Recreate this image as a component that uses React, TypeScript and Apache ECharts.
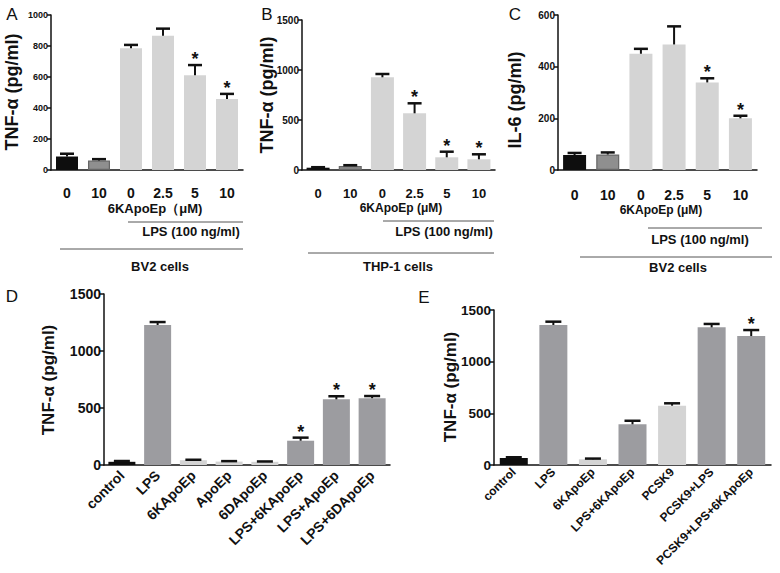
import React, { useEffect, useRef } from "react";
import * as echarts from "echarts";

// ---------- data ----------
const catsA = ["0", "10", "0", "2.5", "5", "10"];
const valsA = [87, 61, 786, 866, 611, 458];
const errA = [105, 70, 807, 912, 677, 491];
const starA = [0, 0, 0, 0, 1, 1];

const catsB = ["0", "10", "0", "2.5", "5", "10"];
const valsB = [23, 40, 927, 567, 127, 107];
const errB = [28, 48, 960, 667, 183, 157];
const starB = [0, 0, 0, 1, 1, 1];

const catsC = ["0", "10", "0", "2.5", "5", "10"];
const valsC = [58, 60, 450, 486, 339, 200];
const errC = [66, 68, 469, 556, 355, 210];
const starC = [0, 0, 0, 0, 1, 1];

const catsD = ["control", "LPS", "6KApoEp", "ApoEp", "6DApoEp", "LPS+6KApoEp", "LPS+ApoEp", "LPS+6DApoEp"];
const valsD = [28, 1228, 42, 30, 28, 213, 576, 586];
const errD = [35, 1254, 46, 34, 31, 240, 603, 605];
const starD = [0, 0, 0, 0, 0, 1, 1, 1];

const catsE = ["control", "LPS", "6KApoEp", "LPS+6KApoEp", "PCSK9", "PCSK9+LPS", "PCSK9+LPS+6KApoEp"];
const valsE = [68, 1355, 55, 394, 574, 1332, 1248];
const errE = [75, 1387, 62, 428, 597, 1365, 1306];
const starE = [0, 0, 0, 0, 0, 0, 1];

// ---------- styles ----------
const BLACK = "#0e0e0e";
const MID = "#8f8f8f";
const LIGHT = "#d4d4d4";
const GREY = "#9c9ca0";
const colorsTop = [BLACK, MID, LIGHT, LIGHT, LIGHT, LIGHT];
const colorsD = [BLACK, GREY, LIGHT, LIGHT, LIGHT, GREY, GREY, GREY];
const colorsE = [BLACK, GREY, LIGHT, GREY, LIGHT, GREY, GREY];

const FONT = "Liberation Sans, Arial, sans-serif";

type Panel = {
  cats: string[];
  vals: number[];
  err: number[];
  star: number[];
  colors: string[];
  grid: { left: number; top: number; width: number; height: number };
  max: number;
  interval: number;
  yFont: number;
  xFont: number;
  xMargin: number;
  rotate: number;
  barWidth: number;
  capHalf: number;
  starFont: number;
};

const panels: Panel[] = [
  { cats: catsA, vals: valsA, err: errA, star: starA, colors: colorsTop, grid: { left: 51, top: 15, width: 192, height: 155 }, max: 1000, interval: 200, yFont: 9, xFont: 14, xMargin: 16, rotate: 0, barWidth: 22, capHalf: 7, starFont: 18 },
  { cats: catsB, vals: valsB, err: errB, star: starB, colors: colorsTop, grid: { left: 302, top: 20, width: 193, height: 150 }, max: 1500, interval: 500, yFont: 10, xFont: 13, xMargin: 17, rotate: 0, barWidth: 23, capHalf: 7, starFont: 18 },
  { cats: catsC, vals: valsC, err: errC, star: starC, colors: colorsTop, grid: { left: 558, top: 15, width: 199, height: 155 }, max: 600, interval: 200, yFont: 10, xFont: 14, xMargin: 18, rotate: 0, barWidth: 23, capHalf: 7, starFont: 18 },
  { cats: catsD, vals: valsD, err: errD, star: starD, colors: colorsD, grid: { left: 104, top: 294, width: 286, height: 171 }, max: 1500, interval: 500, yFont: 14, xFont: 14, xMargin: 8, rotate: 45, barWidth: 27, capHalf: 8, starFont: 18 },
  { cats: catsE, vals: valsE, err: errE, star: starE, colors: colorsE, grid: { left: 494, top: 310, width: 277, height: 155 }, max: 1500, interval: 500, yFont: 13.5, xFont: 12, xMargin: 5, rotate: 45, barWidth: 28, capHalf: 8, starFont: 18 },
];

function buildOption() {
  const grid: any[] = [];
  const xAxis: any[] = [];
  const yAxis: any[] = [];
  const series: any[] = [];

  panels.forEach((p, i) => {
    grid.push({ ...p.grid, containLabel: false, outerBoundsMode: "none" });
    xAxis.push({
      type: "category",
      gridIndex: i,
      data: p.cats,
      axisLine: { lineStyle: { color: "#111", width: 1.5 } },
      axisTick: { alignWithLabel: true, length: 5, lineStyle: { color: "#111", width: 1.5 } },
      axisLabel: {
        color: "#111",
        fontFamily: FONT,
        fontWeight: "bold",
        fontSize: p.xFont,
        margin: p.xMargin,
        rotate: p.rotate,
        interval: 0,
        hideOverlap: false,
      },
    });
    yAxis.push({
      type: "value",
      gridIndex: i,
      min: 0,
      max: p.max,
      interval: p.interval,
      splitLine: { show: false },
      axisLine: { show: true, lineStyle: { color: "#111", width: 1.5 } },
      axisTick: { show: true, length: 4, lineStyle: { color: "#111", width: 1.5 } },
      axisLabel: {
        color: "#111",
        fontFamily: FONT,
        fontWeight: "bold",
        fontSize: p.yFont,
        margin: 3,
        formatter: (v: number) => String(v),
      },
    });
    series.push({
      type: "bar",
      xAxisIndex: i,
      yAxisIndex: i,
      barWidth: p.barWidth,
      data: p.vals.map((v, k) => ({
        value: v,
        itemStyle: {
          color: p.colors[k],
          borderColor: p.colors[k] === MID ? "#666" : p.colors[k] === BLACK ? "#000" : p.colors[k],
          borderWidth: p.colors[k] === MID ? 1.2 : 0,
        },
      })),
      z: 2,
    });
    const capHalf = p.capHalf;
    series.push({
      type: "custom",
      xAxisIndex: i,
      yAxisIndex: i,
      z: 3,
      data: p.vals.map((v, k) => [k, v, p.err[k]]),
      renderItem: (params: any, api: any) => {
        const base = api.coord([api.value(0), api.value(1)]);
        const top = api.coord([api.value(0), api.value(2)]);
        return {
          type: "group",
          children: [
            { type: "line", shape: { x1: base[0], y1: base[1], x2: top[0], y2: top[1] }, style: { stroke: "#111", lineWidth: 2 } },
            { type: "line", shape: { x1: top[0] - capHalf, y1: top[1], x2: top[0] + capHalf, y2: top[1] }, style: { stroke: "#111", lineWidth: 2.5 } },
          ],
        };
      },
    });
    const starData = p.err.map((e, k) => [k, e]).filter((_, k) => p.star[k] === 1);
    series.push({
      type: "custom",
      xAxisIndex: i,
      yAxisIndex: i,
      z: 4,
      data: starData,
      renderItem: (params: any, api: any) => {
        const pt = api.coord([api.value(0), api.value(1)]);
        return {
          type: "text",
          x: pt[0],
          y: pt[1] - 6,
          style: {
            text: "*",
            fill: "#111",
            font: `bold ${p.starFont}px ${FONT}`,
            textAlign: "center",
            textVerticalAlign: "middle",
          },
        };
      },
    });
  });

  const txt = (text: string, x: number, y: number, size: number, bold = true, rotation = 0) => ({
    type: "text",
    x,
    y,
    rotation,
    style: {
      text,
      fill: "#111",
      font: `${bold ? "bold " : ""}${size}px ${FONT}`,
      textAlign: "center",
      textVerticalAlign: "middle",
    },
  });
  const ln = (x1: number, x2: number, y: number) => ({
    type: "line",
    shape: { x1, y1: y, x2, y2: y },
    style: { stroke: "#555", lineWidth: 1 },
  });
  const V = Math.PI / 2;

  const graphic: any[] = [
    // panel letters
    txt("A", 12, 14, 17, false),
    txt("B", 267, 14, 17, false),
    txt("C", 515, 14, 17, false),
    txt("D", 12, 296, 17, false),
    txt("E", 424, 297, 17, false),
    // y axis titles
    txt("TNF-α (pg/ml)", 12, 92, 18, true, V),
    txt("TNF-α (pg/ml)", 267, 95, 18, true, V),
    txt("IL-6 (pg/ml)", 515, 100, 18, true, V),
    txt("TNF-α (pg/ml)", 48, 380, 17, true, V),
    txt("TNF-α (pg/ml)", 450, 387, 17, true, V),
    // panel A annotations
    txt("6KApoEp（μM)", 155, 208, 13),
    ln(128, 243, 222),
    txt("LPS (100 ng/ml)", 191, 231, 13),
    ln(60, 243, 249),
    txt("BV2 cells", 160, 266, 13),
    // panel B annotations
    txt("6KApoEp (μM)", 401, 208, 12),
    ln(383, 494, 221),
    txt("LPS (100 ng/ml)", 444, 231, 13),
    ln(308, 494, 253),
    txt("THP-1 cells", 398, 266, 13),
    // panel C annotations
    txt("6KApoEp (μM)", 661, 210, 12),
    ln(648, 762, 228),
    txt("LPS (100 ng/ml)", 700, 239, 13),
    ln(580, 772, 257),
    txt("BV2 cells", 678, 267, 13),
  ];

  return { animation: false, backgroundColor: "#fff", grid, xAxis, yAxis, series, graphic };
}

export default function App() {
  const ref = useRef<HTMLDivElement>(null);
  useEffect(() => {
    if (!ref.current) return;
    const chart = echarts.init(ref.current, null, { renderer: "svg" });
    chart.setOption(buildOption() as any);
    return () => chart.dispose();
  }, []);
  return <div ref={ref} style={{ width: 780, height: 573, position: "absolute", left: 0, top: 0 }} />;
}
